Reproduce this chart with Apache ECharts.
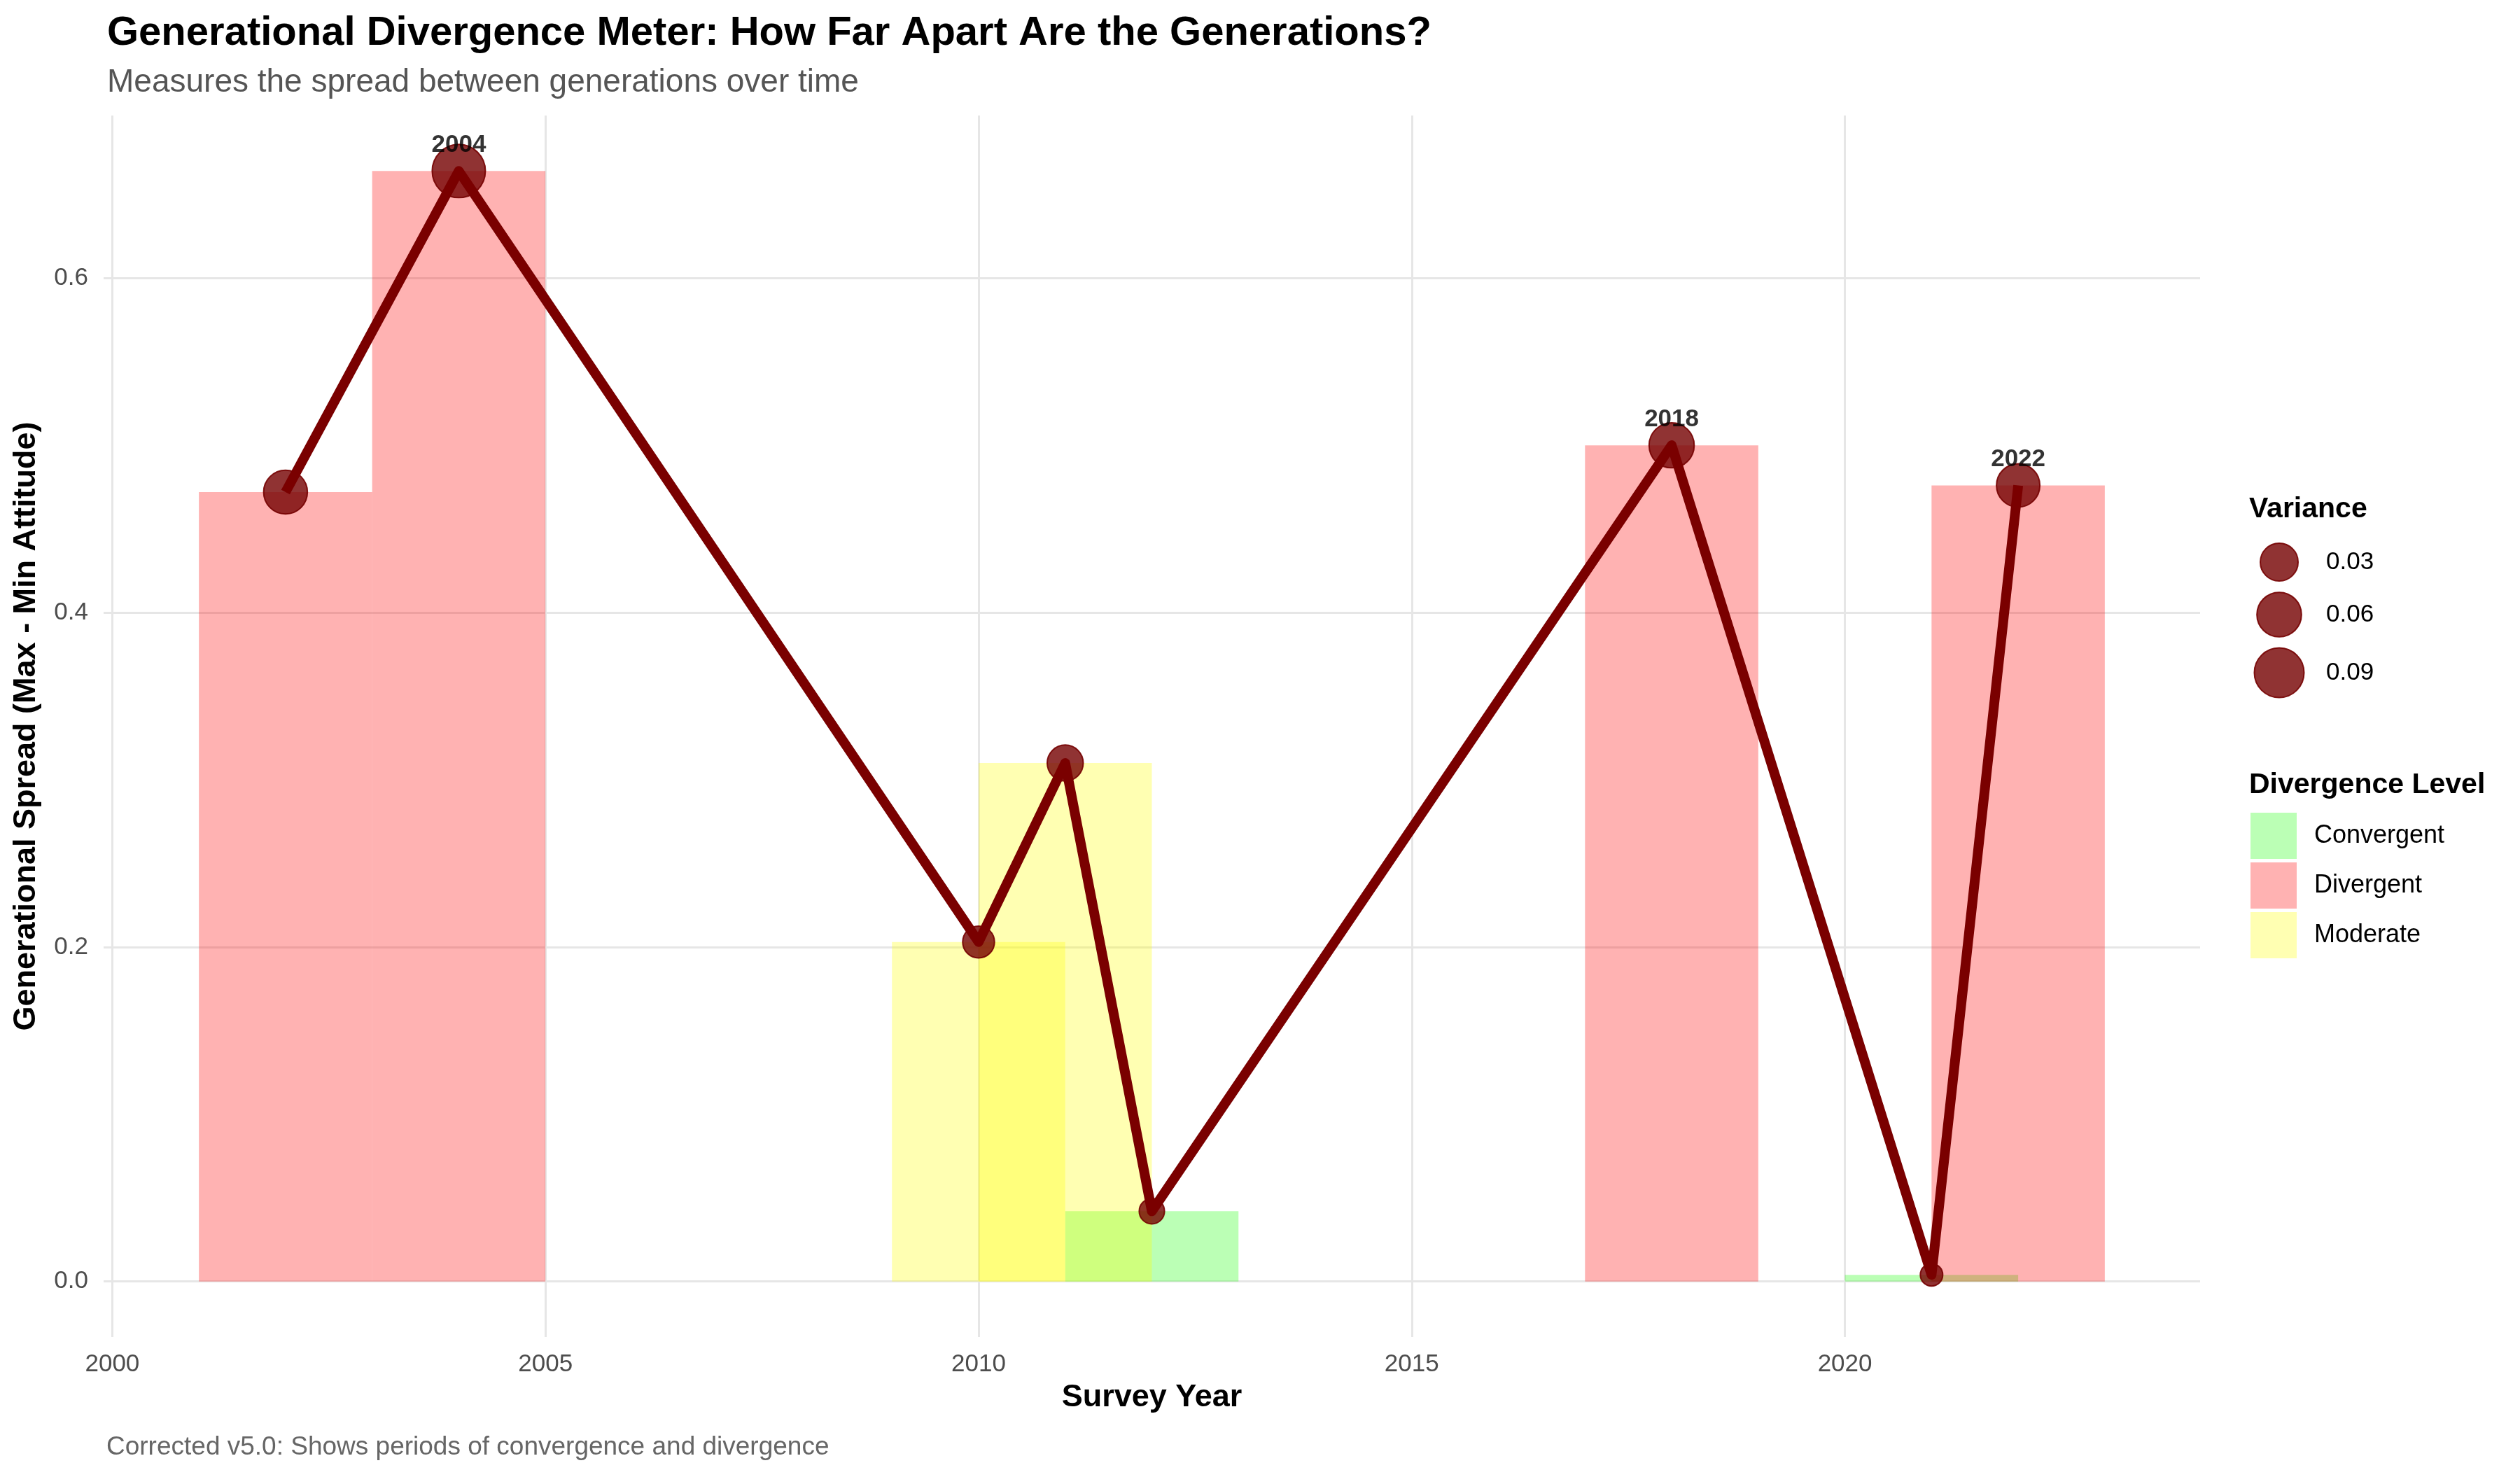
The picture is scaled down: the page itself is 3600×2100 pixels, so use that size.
<!DOCTYPE html>
<html lang="en">
<head>
    <meta charset="UTF-8">
    <title>Generational Divergence Meter</title>
    <script type="text/javascript" src="https://cdn.jsdelivr.net/npm/echarts@6.0.0/dist/echarts.min.js"></script>
    <style>
        html, body { margin: 0; padding: 0; background: #fff; }
        #main { width: 3600px; height: 2100px; }
    </style>
</head>
<body>
<div id="main"></div>
<script>
    // survey data
    var years    = [2002, 2004, 2010, 2011, 2012, 2018, 2021, 2022];
    var spread   = [0.472, 0.664, 0.203, 0.310, 0.042, 0.500, 0.004, 0.476];
    var variance = [0.056, 0.114, 0.0125, 0.024, 0.003, 0.063, 0.002, 0.054];
    var level    = ['Divergent', 'Divergent', 'Moderate', 'Moderate', 'Convergent', 'Divergent', 'Convergent', 'Divergent'];

    var levels       = ['Convergent', 'Divergent', 'Moderate'];
    var labelYears   = [2004, 2018, 2022];
    var xTicks       = [2000, 2005, 2010, 2015, 2020];
    var yTicks       = [0, 0.2, 0.4, 0.6];
    var varianceKeys = [0.03, 0.06, 0.09];

    var FONT = '"Liberation Sans", Arial, Helvetica, sans-serif';
    var levelColor = {
        'Convergent': 'rgba(20,255,0,0.29)',
        'Divergent': 'rgba(255,0,0,0.3)',
        'Moderate': 'rgba(255,255,0,0.3)'
    };
    var pointFill = 'rgba(116,0,0,0.8)';
    var lineColor = '#7a0000';

    // point diameter from variance (area-like scale)
    function sizeFor(v) {
        var t = (v - 0.002) / 0.112;
        if (t < 0) t = 0;
        if (t > 1) t = 1;
        return 32 + 44 * Math.sqrt(t);
    }

    // one custom series per divergence level: a 2-year wide tile centred on the year
    function barSeries(name) {
        var d = [];
        for (var i = 0; i < years.length; i++) {
            if (level[i] == name) d.push([years[i], spread[i]]);
        }
        return {
            name: name,
            type: 'custom',
            itemStyle: { color: levelColor[name] },
            encode: { x: 0, y: 1 },
            data: d,
            renderItem: function (params, api) {
                var p0 = api.coord([api.value(0) - 1, api.value(1)]);
                var p1 = api.coord([api.value(0) + 1, 0]);
                return {
                    type: 'rect',
                    shape: { x: p0[0], y: p0[1], width: p1[0] - p0[0], height: p1[1] - p0[1] },
                    style: { fill: levelColor[name] }
                };
            }
        };
    }

    var pts = [], linePts = [], labelPts = [];
    for (var i = 0; i < years.length; i++) {
        pts.push([years[i], spread[i], variance[i]]);
        linePts.push([years[i], spread[i]]);
        if (labelYears.indexOf(years[i]) >= 0) labelPts.push([years[i], spread[i]]);
    }

    // variance legend drawn as graphics
    var legendGraphics = [];
    var keyY = [803, 878, 961];
    for (var k = 0; k < varianceKeys.length; k++) {
        var r = sizeFor(varianceKeys[k]) / 2;
        legendGraphics.push({
            type: 'circle',
            shape: { cx: 3256, cy: keyY[k], r: r },
            style: { fill: pointFill, stroke: 'rgba(116,0,0,0.9)', lineWidth: 2 }
        });
        legendGraphics.push({
            type: 'text',
            x: 3323, y: keyY[k],
            style: { text: varianceKeys[k].toFixed(2), font: '35px ' + FONT, fill: '#000', verticalAlign: 'middle' }
        });
    }

    var option = {
        backgroundColor: '#ffffff',
        animation: false,
        title: [
            { text: 'Generational Divergence Meter: How Far Apart Are the Generations?', left: 148, top: 14,
              textStyle: { fontFamily: FONT, fontSize: 58, fontWeight: 'bold', color: '#000' } },
            { text: 'Measures the spread between generations over time', left: 148, top: 90,
              textStyle: { fontFamily: FONT, fontSize: 46, fontWeight: 'normal', color: '#555' } },
            { text: 'Corrected v5.0: Shows periods of convergence and divergence', left: 147, top: 2044,
              textStyle: { fontFamily: FONT, fontSize: 37, fontWeight: 'normal', color: '#666' } },
            { text: 'Variance', left: 3208, top: 702,
              textStyle: { fontFamily: FONT, fontSize: 41, fontWeight: 'bold', color: '#000' } },
            { text: 'Divergence Level', left: 3208, top: 1096,
              textStyle: { fontFamily: FONT, fontSize: 41, fontWeight: 'bold', color: '#000' } }
        ],
        legend: {
            data: levels,
            orient: 'vertical',
            left: 3215,
            top: 1161,
            padding: 0,
            itemWidth: 66,
            itemHeight: 66,
            itemGap: 5,
            icon: 'rect',
            textStyle: { fontFamily: FONT, fontSize: 36, color: '#000', padding: [0, 0, 0, 20] }
        },
        graphic: legendGraphics,
        grid: { left: 148, right: 457, top: 165, bottom: 190 },
        xAxis: {
            type: 'value',
            min: 1999.9,
            max: 2024.1,
            name: 'Survey Year',
            nameLocation: 'middle',
            nameGap: 64,
            nameTextStyle: { fontFamily: FONT, fontSize: 45, fontWeight: 'bold', color: '#000' },
            axisLine: { show: false },
            axisTick: { show: false, customValues: xTicks },
            axisLabel: { customValues: xTicks, margin: 22, fontFamily: FONT, fontSize: 35, color: '#4d4d4d',
                         formatter: function (v) { return String(Math.round(v)); } },
            splitLine: { show: true, lineStyle: { color: '#e6e6e6', width: 3 } }
        },
        yAxis: {
            type: 'value',
            min: -0.0332,
            max: 0.6972,
            name: 'Generational Spread (Max - Min Attitude)',
            nameLocation: 'middle',
            nameGap: 88,
            nameTextStyle: { fontFamily: FONT, fontSize: 45, fontWeight: 'bold', color: '#000' },
            axisLine: { show: false },
            axisTick: { show: false, customValues: yTicks },
            axisLabel: { customValues: yTicks, margin: 22, fontFamily: FONT, fontSize: 35, color: '#4d4d4d',
                         formatter: function (v) { return v.toFixed(1); } },
            splitLine: { show: true, lineStyle: { color: '#e6e6e6', width: 3 } }
        },
        series: [
            barSeries('Convergent'),
            barSeries('Moderate'),
            barSeries('Divergent'),
            {
                name: 'Variance',
                type: 'scatter',
                data: pts,
                symbolSize: function (val) { return sizeFor(val[2]); },
                itemStyle: { color: pointFill, borderColor: 'rgba(116,0,0,0.9)', borderWidth: 2, opacity: 1 }
            },
            {
                name: 'Spread',
                type: 'line',
                data: linePts,
                showSymbol: false,
                lineStyle: { color: lineColor, width: 14, cap: 'butt', join: 'round' }
            },
            {
                name: 'Labels',
                type: 'scatter',
                data: labelPts,
                symbolSize: 1,
                itemStyle: { color: 'transparent' },
                label: {
                    show: true,
                    position: 'top',
                    distance: 19,
                    formatter: function (p) { return String(p.value[0]); },
                    fontFamily: FONT, fontSize: 35, fontWeight: 'bold', color: '#000000',
                    textBorderWidth: 0
                }
            }
        ]
    };

    echarts.init(document.getElementById('main')).setOption(option);
</script>
</body>
</html>
